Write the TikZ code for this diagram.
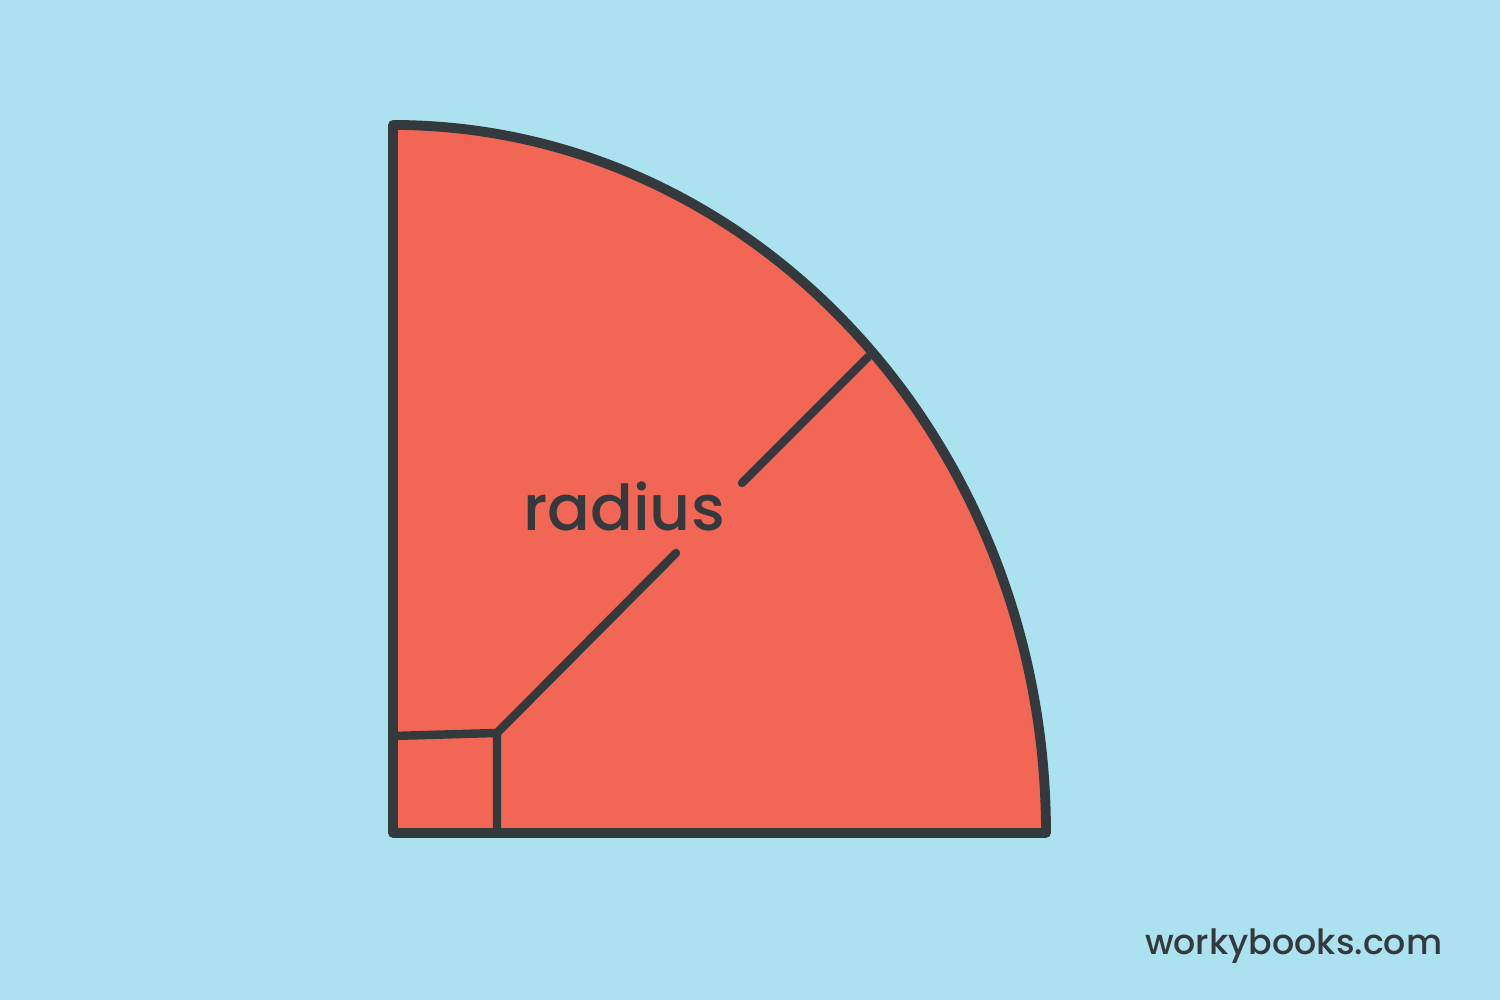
\documentclass[tikz,border=0pt]{standalone}
\usepackage{fontspec}
\setmainfont{Poppins}[BoldFont={Poppins Medium}]
\usetikzlibrary{calc}
\definecolor{skybg}{RGB}{172,225,240}
\definecolor{sectorfill}{RGB}{242,102,86}
\definecolor{inkdark}{RGB}{52,57,61}
\tikzset{
  outline/.style={draw=inkdark,line width=2.8pt,line join=round,line cap=round},
  radline/.style={draw=inkdark,line width=2.4pt,line cap=round},
  rightmark/.style={draw=inkdark,line width=2.4pt,line join=miter},
  lbl/.style={text=inkdark,inner sep=0pt,anchor=base},
}
\begin{document}
\begin{tikzpicture}[x=1cm,y=1cm]
  \fill[skybg] (0,0) rectangle (15,10);
  \useasboundingbox (0,0) rectangle (15,10);
  \coordinate (O) at (3.93,1.67);
  \coordinate (R) at (10.46,1.67);
  \coordinate (T) at (3.93,8.75);
  \coordinate (P) at (8.68,6.43);
  \coordinate (sq) at (4.97,2.67);
  \coordinate (gapA) at (6.76,4.47);
  \coordinate (gapB) at (7.42,5.17);
  % quarter sector
  \draw[outline,fill=sectorfill] (O) -- (R)
    arc[start angle=0,end angle=90,x radius=6.53,y radius=7.08] -- cycle;
  % right-angle mark
  \draw[rightmark] (3.93,2.64) -- (sq) -- (4.97,1.67);
  % radius with a gap for its label
  \draw[radline] (sq) -- (gapA);
  \draw[radline] (gapB) -- (P);
  \node[lbl,font=\bfseries\fontsize{18}{22}\selectfont] (radlabel) at (6.24,4.69) {radius};
  \node[lbl,anchor=base east,font=\bfseries\fontsize{9.9}{12}\selectfont] (brand) at (14.43,0.45) {workybooks.com};
\end{tikzpicture}
\end{document}
